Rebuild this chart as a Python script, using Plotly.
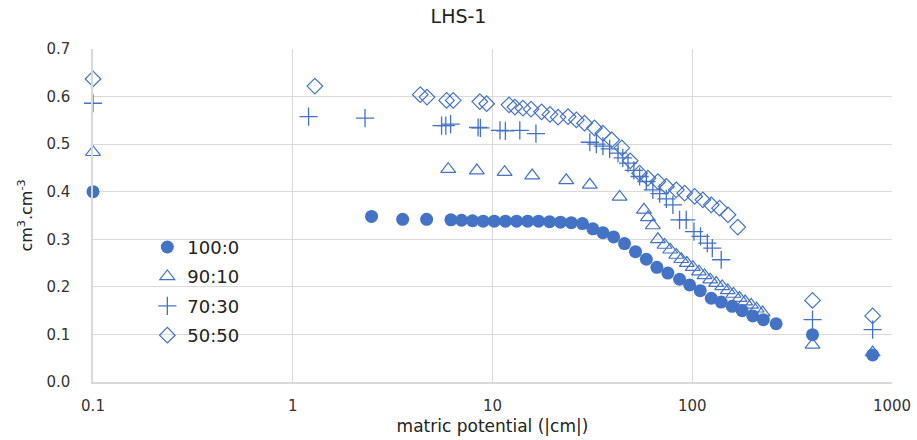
import plotly.graph_objects as go

# ---- data ----
x_100_0 = [0.1, 2.48, 3.55, 4.68, 6.19, 7.0, 7.94, 8.98, 10.2, 11.6, 13.2, 15.0, 17.0, 19.3, 21.9,
           24.8, 28.2, 31.8, 35.7, 40.4, 45.8, 52.0, 58.9, 66.5, 75.5, 86.4, 97, 109.6, 124.5,
           139.6, 158.5, 177.8, 201, 227, 263, 400, 800]
y_100_0 = [0.40, 0.348, 0.342, 0.342, 0.341, 0.340, 0.339, 0.338, 0.338, 0.338, 0.338, 0.338, 0.338,
           0.337, 0.336, 0.335, 0.333, 0.322, 0.314, 0.305, 0.291, 0.274, 0.258, 0.241, 0.229, 0.216,
           0.204, 0.192, 0.176, 0.168, 0.159, 0.150, 0.139, 0.131, 0.1225, 0.0995, 0.057]

x_90_10 = [0.1, 6.0, 8.35, 11.5, 15.8, 23.4, 30.7, 43.3, 57.3, 60, 63.5, 67.3, 72.7, 77.6, 83.2,
           88.1, 94, 100.7, 108, 115.2, 123, 131.8, 141.3, 150.6, 160.9, 172.4, 184, 197, 210, 225,
           400, 800]
y_90_10 = [0.483, 0.4475, 0.4445, 0.441, 0.434, 0.424, 0.4145, 0.389, 0.362, 0.346, 0.329, 0.300,
           0.288, 0.278, 0.267, 0.258, 0.250, 0.2415, 0.232, 0.224, 0.215, 0.208, 0.201, 0.1925,
           0.185, 0.1765, 0.169, 0.162, 0.154, 0.146, 0.078, 0.062]

x_70_30 = [0.1, 1.2, 2.3, 5.56, 5.84, 6.17, 8.47, 8.7, 10.9, 11.6, 13.7, 16.5, 30.7, 33.1, 35.7,
           38.6, 42.5, 44.9, 47.7, 51.0, 54.5, 58.9, 63.5, 68.7, 74.2, 80, 86.4, 93.3, 102, 110, 119,
           126, 139.6, 400, 800]
y_70_30 = [0.586, 0.558, 0.5545, 0.539, 0.539, 0.542, 0.535, 0.534, 0.529, 0.528, 0.529, 0.522,
           0.504, 0.500, 0.496, 0.490, 0.481, 0.471, 0.460, 0.445, 0.432, 0.4215, 0.404, 0.396,
           0.385, 0.3725, 0.341, 0.341, 0.316, 0.306, 0.292, 0.2815, 0.257, 0.131, 0.110]

x_50_50 = [0.1, 1.29, 4.35, 4.7, 5.89, 6.36, 8.64, 9.35, 12.1, 12.95, 14.2, 15.6, 17.6, 19.4, 21.3,
           23.9, 26.3, 28.9, 32.4, 35.7, 39.5, 44.4, 48.9, 54.5, 60, 67.3, 74.2, 83.2, 91.6, 102.8,
           113, 124.5, 137, 151, 169, 400, 800]
y_50_50 = [0.637, 0.622, 0.604, 0.599, 0.592, 0.592, 0.5895, 0.585, 0.5826, 0.578, 0.5756, 0.5735,
           0.568, 0.5625, 0.5567, 0.558, 0.551, 0.544, 0.534, 0.523, 0.509, 0.492, 0.465, 0.439,
           0.4286, 0.4214, 0.411, 0.404, 0.397, 0.390, 0.383, 0.3725, 0.3655, 0.3515, 0.3256,
           0.1715, 0.139]

series_names = ["100:0", "90:10", "70:30", "50:50"]
x_tickvals = [0.1, 1, 10, 100, 1000]
x_ticktext = ["0.1", "1", "10", "100", "1000"]
y_tickvals = [0.0, 0.1, 0.2, 0.3, 0.4, 0.5, 0.6, 0.7]

BLUE = "#4472C4"
FONT = "DejaVu Sans"

fig = go.Figure()
fig.add_trace(go.Scatter(x=x_100_0, y=y_100_0, mode="markers", name=series_names[0],
                         legendgroup="a", cliponaxis=False,
                         marker=dict(symbol="circle", size=13, color=BLUE, line=dict(width=0))))
fig.add_trace(go.Scatter(x=x_90_10, y=y_90_10, mode="markers", name=series_names[1],
                         legendgroup="b", cliponaxis=False,
                         marker=dict(symbol="triangle-up-open", size=13, color=BLUE,
                                     line=dict(width=1.2, color=BLUE))))
fig.add_trace(go.Scatter(x=x_70_30, y=y_70_30, mode="markers", name=series_names[2],
                         legendgroup="c", cliponaxis=False,
                         marker=dict(symbol="cross-thin-open", size=13, color=BLUE,
                                     line=dict(width=1.3, color=BLUE))))
fig.add_trace(go.Scatter(x=x_50_50, y=y_50_50, mode="markers", name=series_names[3],
                         legendgroup="d", cliponaxis=False,
                         marker=dict(symbol="diamond-open", size=12, color=BLUE,
                                     line=dict(width=1.2, color=BLUE))))

fig.update_layout(
    width=917, height=440,
    margin=dict(l=93, r=25, t=49, b=58, autoexpand=False),
    paper_bgcolor="white", plot_bgcolor="white",
    font=dict(family=FONT, color="#404040", size=15),
    title=dict(text="LHS-1", x=0.5, xref="container", y=1 - 16 / 440, yref="container",
               xanchor="center", yanchor="middle",
               font=dict(family=FONT, size=19, color="#222222")),
    showlegend=True,
    legend=dict(x=0.068, y=0.46, xanchor="left", yanchor="top",
                bgcolor="rgba(0,0,0,0)", font=dict(family=FONT, size=18, color="#222222"),
                traceorder="grouped", tracegroupgap=3, itemwidth=30),
)

fig.update_xaxes(
    type="log", range=[-1, 3], automargin=False,
    tickvals=x_tickvals, ticktext=x_ticktext,
    showgrid=True, gridcolor="#d9d9d9", gridwidth=1,
    showline=True, linecolor="#d9d9d9", linewidth=1.5,
    zeroline=False, ticks="", ticklabelstandoff=9,
    tickfont=dict(family=FONT, size=15, color="#333333"),
    title=dict(text="matric potential (|cm|)", standoff=6,
               font=dict(family=FONT, size=17, color="#222222")),
)
fig.update_yaxes(
    range=[0, 0.7], tickvals=y_tickvals, tickformat=".1f", automargin=False,
    showgrid=True, gridcolor="#d9d9d9", gridwidth=1,
    showline=True, linecolor="#d9d9d9", linewidth=1.5,
    zeroline=False, ticks="", ticklabelstandoff=18,
    tickfont=dict(family=FONT, size=15, color="#333333"),
    title=dict(text="cm<sup>3</sup>.cm<sup>-3</sup>", standoff=10,
               font=dict(family=FONT, size=16, color="#222222")),
)

fig.write_html("out.html")
